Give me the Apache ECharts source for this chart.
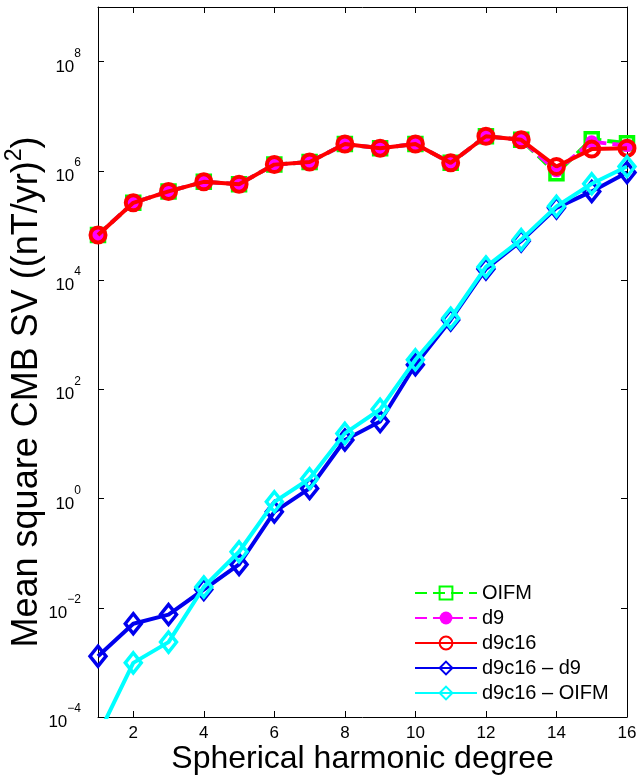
<!DOCTYPE html>
<html>
<head>
<meta charset="utf-8">
<script src="https://cdn.jsdelivr.net/npm/echarts@6/dist/echarts.min.js"></script>
<style>
  html, body { margin: 0; padding: 0; background: #fff; }
  #main { width: 639px; height: 782px; }
</style>
</head>
<body>
<div id="main"></div>
<script>
// spherical harmonic degree
var degrees = [1, 2, 3, 4, 5, 6, 7, 8, 9, 10, 11, 12, 13, 14, 15, 16];
var xTicks = [2, 4, 6, 8, 10, 12, 14, 16];

// mean square CMB SV, (nT/yr)^2
var oifm   = [6.7e4, 2.6e5, 4.2e5, 6.3e5, 5.7e5, 1.3e6, 1.45e6, 3.1e6, 2.6e6, 3.1e6, 1.4e6, 4.3e6, 3.7e6, 9.0e5, 3.8e6, 3.2e6];
var d9     = [6.7e4, 2.6e5, 4.2e5, 6.3e5, 5.7e5, 1.3e6, 1.45e6, 3.1e6, 2.6e6, 3.1e6, 1.4e6, 4.3e6, 3.7e6, 1.0e6, 3.4e6, 2.9e6];
var d9c16  = [6.7e4, 2.6e5, 4.2e5, 6.3e5, 5.7e5, 1.3e6, 1.45e6, 3.1e6, 2.6e6, 3.1e6, 1.4e6, 4.3e6, 3.7e6, 1.2e6, 2.5e6, 2.6e6];
var diffD9   = [1.3e-3, 5.1e-3, 7.5e-3, 0.0216, 0.062, 0.57, 1.53, 11.8, 25.7, 282, 1860, 1.6e4, 5.2e4, 2.1e5, 4.2e5, 9.3e5];
var diffOIFM = [4.6e-5, 9.8e-4, 2.35e-3, 0.024, 0.106, 0.87, 2.3, 15.6, 43, 347, 2000, 1.74e4, 5.5e4, 2.24e5, 5.8e5, 1.2e6];

var names = ['OIFM', 'd9', 'd9c16', 'd9c16 \u2013 d9', 'd9c16 \u2013 OIFM'];

function pairs(vals) {
    return degrees.map(function (d, i) { return [d, vals[i]]; });
}

function expLabel(v) {
    var e = Math.round(Math.log(v) / Math.LN10);
    var s = e < 0 ? '\u2212' + (-e) : '' + e;
    return '{b|10}{s|' + s + '}';
}

var FONT = 'Liberation Sans, Arial, Helvetica, sans-serif';

var myChart = echarts.init(document.getElementById('main'));
var option = {
    backgroundColor: '#fff',
    animation: false,
    textStyle: { fontFamily: FONT, color: '#000' },
    grid: { left: 98, top: 7, right: 12, bottom: 65, containLabel: false, outerBoundsMode: 'none' },
    legend: {
        orient: 'vertical',
        left: 409,
        top: 578,
        itemWidth: 62,
        itemHeight: 16,
        itemGap: 5,
        textStyle: { fontSize: 20, color: '#000', fontFamily: FONT },
        data: names
    },
    xAxis: [{
        type: 'value',
        min: 1,
        max: 16,
        name: 'Spherical harmonic degree',
        nameLocation: 'middle',
        nameGap: 26,
        nameMoveOverlap: false,
        nameTextStyle: { fontSize: 32, color: '#000', fontFamily: FONT, verticalAlign: 'top' },
        axisLine: { lineStyle: { color: '#000', width: 1 } },
        axisTick: { inside: true, length: 6, customValues: xTicks, lineStyle: { color: '#000' } },
        axisLabel: { fontSize: 17, color: '#000', margin: 8, customValues: xTicks },
        splitLine: { show: false }
    }, {
        type: 'value',
        position: 'top',
        min: 1,
        max: 16,
        axisLine: { lineStyle: { color: '#000', width: 1 } },
        axisTick: { inside: true, length: 6, customValues: xTicks, lineStyle: { color: '#000' } },
        axisLabel: { show: false },
        splitLine: { show: false }
    }],
    yAxis: [{
        type: 'log',
        logBase: 100,
        min: 1e-4,
        max: 1e9,
        name: '{t|Mean square CMB SV ((nT/yr)}{s|2}{t|)}',
        nameLocation: 'middle',
        nameGap: 53,
        nameMoveOverlap: false,
        nameTextStyle: {
            padding: [0, 60, 0, 0],
            rich: {
                t: { fontSize: 36, color: '#000', fontFamily: FONT, lineHeight: 42, verticalAlign: 'bottom' },
                s: { fontSize: 23, color: '#000', fontFamily: FONT, lineHeight: 22, verticalAlign: 'top' }
            }
        },
        axisLine: { lineStyle: { color: '#000', width: 1 } },
        axisTick: { inside: true, length: 6, lineStyle: { color: '#000' } },
        axisLabel: {
            margin: 17,
            showMaxLabel: false,
            formatter: expLabel,
            rich: {
                b: { fontSize: 17, color: '#000', fontFamily: FONT, lineHeight: 28, verticalAlign: 'bottom' },
                s: { fontSize: 12, color: '#000', fontFamily: FONT, lineHeight: 12, verticalAlign: 'top' }
            }
        },
        minorTick: { show: false },
        splitLine: { show: false }
    }, {
        type: 'log',
        logBase: 100,
        min: 1e-4,
        max: 1e9,
        position: 'right',
        axisLine: { lineStyle: { color: '#000', width: 1 } },
        axisTick: { inside: true, length: 6, lineStyle: { color: '#000' } },
        axisLabel: { show: false },
        splitLine: { show: false }
    }],
    series: [
        {
            name: names[0],
            type: 'line',
            data: pairs(oifm),
            symbol: 'rect',
            symbolSize: 13,
            lineStyle: { color: '#00ff00', width: 4, type: [12, 6] },
            itemStyle: { color: 'transparent', borderColor: '#00ff00', borderWidth: 3.5 },
            z: 2
        },
        {
            name: names[1],
            type: 'line',
            data: pairs(d9),
            symbol: 'circle',
            symbolSize: 13,
            lineStyle: { color: '#ff00ff', width: 4, type: [12, 6] },
            itemStyle: { color: '#ff00ff', borderColor: '#ff00ff', borderWidth: 0 },
            z: 3
        },
        {
            name: names[2],
            type: 'line',
            data: pairs(d9c16),
            symbol: 'circle',
            symbolSize: 15,
            lineStyle: { color: '#ff0000', width: 4 },
            itemStyle: { color: 'transparent', borderColor: '#ff0000', borderWidth: 4 },
            z: 4
        },
        {
            name: names[3],
            type: 'line',
            data: pairs(diffD9),
            symbol: 'diamond',
            symbolSize: [16, 20],
            lineStyle: { color: '#0000ee', width: 4 },
            itemStyle: { color: 'transparent', borderColor: '#0000ee', borderWidth: 3.5 },
            z: 5
        },
        {
            name: names[4],
            type: 'line',
            data: pairs(diffOIFM),
            symbol: 'diamond',
            symbolSize: [16, 20],
            lineStyle: { color: '#00ffff', width: 4 },
            itemStyle: { color: 'transparent', borderColor: '#00ffff', borderWidth: 3.5 },
            z: 6
        }
    ]
};
myChart.setOption(option);
</script>
</body>
</html>
